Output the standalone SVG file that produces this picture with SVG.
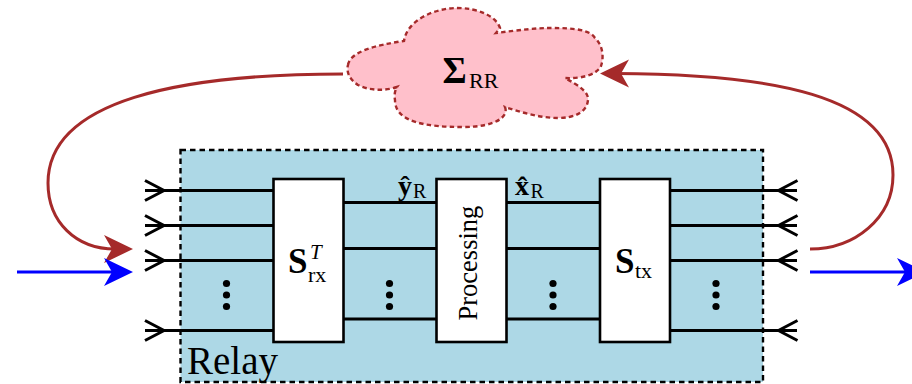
<svg xmlns="http://www.w3.org/2000/svg" width="912" height="384" viewBox="0 0 912 384">
<style>
text{font-family:"Liberation Serif","Times New Roman",serif;fill:#000}
.w{stroke:#000;stroke-width:3;fill:none}
.b{fill:#fff;stroke:#000;stroke-width:2.6}
.d{fill:#000}
.t{font-size:35px;font-weight:bold}
.s{font-size:22px}
.h{font-size:28px;font-weight:bold}
.r{font-size:20px}
</style>
<defs>
<path id="hd" d="M0 0L-29-14L-21 0L-29 14Z"/>
<path id="ch" d="M-19-10L0 0L-19 10" fill="none" stroke="#000" stroke-width="3"/>
<g id="dots"><circle cx="0" cy="0" r="3.6"/><circle cx="0" cy="11.5" r="3.6"/><circle cx="0" cy="23" r="3.6"/></g>
</defs>
<g id="relay">
<rect x="180.500" y="150" width="582.500" height="232" fill="#add8e6" stroke="#000" stroke-width="2.400" stroke-dasharray="5.500 4"/>
<text x="187" y="374" font-size="39">Relay</text>
</g>
<g id="connectors">
<path class="w" d="M145 190.500H273M145 225.500H273M145 260.500H273M145 330.500H273"/>
<path class="w" d="M343 202.500H437M343 248.500H437M343 319H437"/>
<path class="w" d="M506 202.500H600M506 248.500H600M506 319H600"/>
<path class="w" d="M670 190.500H797M670 225.500H797M670 260.500H797M670 330.500H797"/>
<use href="#ch" x="164" y="190.500"/><use href="#ch" x="164" y="225.500"/><use href="#ch" x="164" y="260.500"/><use href="#ch" x="164" y="330.500"/>
<use href="#ch" transform="translate(778.500 190.500) scale(-1 1)"/><use href="#ch" transform="translate(778.500 225.500) scale(-1 1)"/><use href="#ch" transform="translate(778.500 260.500) scale(-1 1)"/><use href="#ch" transform="translate(778.500 330.500) scale(-1 1)"/>
<path d="M343 74C180 74 48 100 48 183C48 222 76 249 115 249" fill="none" stroke="#a52a2a" stroke-width="3"/>
<use href="#hd" x="133" y="249" fill="#a52a2a"/>
<path d="M810 249C855 249 893 218 893 175C893 95 770 74 615 73.500" fill="none" stroke="#a52a2a" stroke-width="3"/>
<use href="#hd" transform="translate(600 73.500) scale(-1 1)" fill="#a52a2a"/>
<path d="M17 272H115" fill="none" stroke="#00f" stroke-width="3"/>
<use href="#hd" x="133" y="272" fill="#00f"/>
<path d="M810 272H910" fill="none" stroke="#00f" stroke-width="3"/>
<use href="#hd" x="926" y="272" fill="#00f"/>
</g>
<g id="cloud">
<path d="M348 65C350 52 375 45 404 41C407 20 435 8 457 8C478 8 496 16 500 28L496 33C520 30 535 28 552 28C575 28 590 30 595 38C603 45 604 58 601 66C597 75 580 79 565 78C578 85 589 92 588 100C587 112 575 118 558 118C540 118 520 112 505 107C509 117 495 127 463 127C425 127 395 122 395 100C394 95 395 90 397 87C385 91 370 91 358 85C350 80 346 72 348 65Z" fill="#ffc0cb" stroke="#a52a2a" stroke-width="2.400" stroke-dasharray="4.500 3.200"/>
<text x="442.500" y="83" font-size="37" font-weight="bold">Σ</text><text x="469" y="88" class="s">RR</text>
</g>
<g id="srx">
<rect class="b" x="273.500" y="179" width="70" height="163"/>
<text x="288" y="273" class="t">S</text><text x="310" y="259" font-size="21" font-style="italic">T</text><text x="308" y="282" class="s">rx</text>
</g>
<g id="processing">
<rect class="b" x="436.500" y="179" width="70" height="163"/>
<text transform="translate(477 320.500) rotate(-90)" font-size="26.500">Processing</text>
</g>
<g id="stx">
<rect class="b" x="600" y="179" width="70" height="163"/>
<text x="615" y="273" class="t">S</text><text x="635" y="278" class="s">tx</text>
</g>
<g id="labels">
<text x="398" y="195" class="h">ŷ</text><text x="413" y="198" class="r">R</text>
<text x="515" y="195" class="h">x̂</text><text x="530.500" y="198" class="r">R</text>
</g>
<g id="dotsG" class="d">
<use href="#dots" x="226.500" y="283.500"/><use href="#dots" x="389.500" y="283.500"/><use href="#dots" x="553" y="283.500"/><use href="#dots" x="716" y="283.500"/>
</g>
</svg>
